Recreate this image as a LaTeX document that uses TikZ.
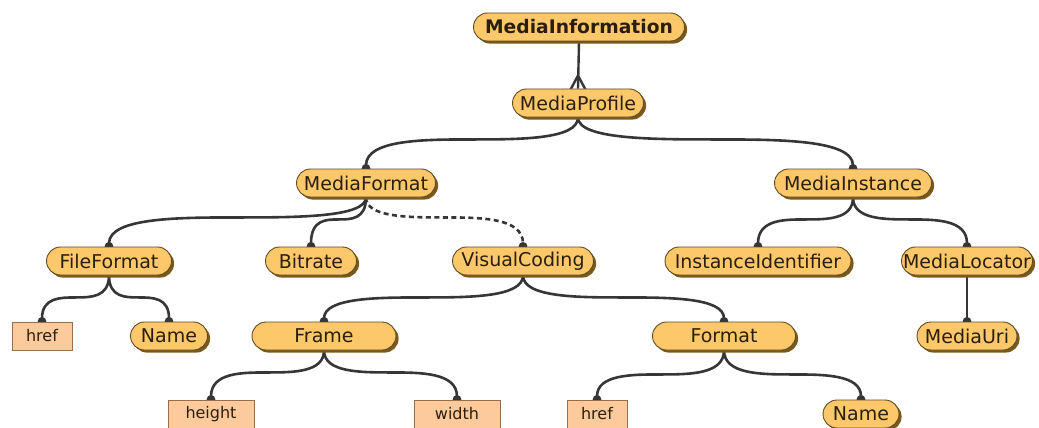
\documentclass[tikz,border=0pt]{standalone}
\usepackage{fontspec}
\setmainfont{DejaVu Sans}
\usetikzlibrary{calc,shadows,backgrounds,arrows.meta}

\definecolor{boxfill}{HTML}{FCC86A}
\definecolor{boxline}{HTML}{5E4A22}
\definecolor{boxshade}{HTML}{7A5A1C}
\definecolor{attrfill}{HTML}{FDCB9B}
\definecolor{attrline}{HTML}{9A6E4A}
\definecolor{wire}{HTML}{363636}
\definecolor{ink}{HTML}{2A1F0E}

\tikzset{
  elem/.style={draw=boxline, line width=0.9pt, fill=boxfill, rounded corners=14pt,
    minimum height=28pt, inner sep=0pt, text=ink, font=\fontsize{19}{21}\selectfont,
    drop shadow={shadow xshift=2.6pt, shadow yshift=-2.6pt, fill=boxshade, opacity=1}},
  attr/.style={draw=attrline, line width=0.8pt, fill=attrfill, minimum height=28pt,
    inner sep=0pt, text=ink, font=\fontsize{16}{18}\selectfont},
  conn/.style={draw=wire, line width=2.6pt, -{Circle[length=8.5pt,width=8.5pt]}, shorten >=-4pt},
  foot/.style={draw=wire, line width=2.4pt},
}

% parent-to-child link: two smooth bends meeting halfway at level #4 below the parent
% #1 extra options, #2 parent, #3 child, #4 depth of the halfway point below the parent
\newcommand\branch[4][]{%
  \draw[conn,#1] let \p1=(#2.south), \p2=(#3.north),
      \n1={sign(\x2-\x1)}, \n2={0.5*abs(\x2-\x1)}, \n3={\y1-#4}, \n4={0.5*(\x1+\x2)} in
    (\p1) .. controls (\x1,\n3) and ({\n4-\n1*\n2*0.45},\n3) .. (\n4,\n3)
    .. controls ({\n4+\n1*\n2*0.45},\n3) and (\x2,\n3) .. (\p2);}

\begin{document}
\begin{tikzpicture}[x=1pt,y=1pt]
\useasboundingbox (0,0) rectangle (1039,-428);

% elements
\node[elem, minimum width=211pt, font=\fontsize{18.7}{21}\selectfont\bfseries] (mi) at (579,-27) {MediaInformation};
\node[elem, minimum width=131pt] (mp) at (578,-103) {MediaProfile};
\node[elem, minimum width=139pt] (mf) at (366,-183) {MediaFormat};
\node[elem, minimum width=157pt] (minst) at (853,-183) {MediaInstance};
\node[elem, minimum width=125pt] (ff) at (109,-261) {FileFormat};
\node[elem, minimum width=91pt] (br) at (311,-261) {Bitrate};
\node[elem, minimum width=141pt] (vc) at (523,-261) {VisualCoding};
\node[elem, minimum width=186pt] (iid) at (758,-261) {InstanceIdentifier};
\node[elem, minimum width=131pt] (ml) at (967,-261) {MediaLocator};
\node[elem, minimum width=77pt] (nm1) at (169,-336) {Name};
\node[elem, minimum width=144pt] (fr) at (324,-336) {Frame};
\node[elem, minimum width=143pt] (fmt) at (724,-336) {Format};
\node[elem, minimum width=100pt] (mu) at (967,-336) {MediaUri};
\node[elem, minimum width=76pt] (nm2) at (861,-414) {Name};

% attributes
\node[attr, minimum width=60pt] (hr1) at (42,-336) {href};
\node[attr, minimum width=86pt] (hgt) at (211,-414) {height};
\node[attr, minimum width=86pt] (wid) at (457,-414) {width};
\node[attr, minimum width=60pt] (hr2) at (597,-414) {href};

\begin{scope}[on background layer]
  % one-to-many link with crow's foot
  \draw[foot] (mi.south) -- (mp.north);
  \draw[foot] ([yshift=13pt]mp.north) -- ([xshift=-8pt,yshift=-2pt]mp.north);
  \draw[foot] ([yshift=13pt]mp.north) -- ([xshift=8pt,yshift=-2pt]mp.north);

  \branch{mp}{mf}{22}
  \branch{mp}{minst}{22}
  \branch{mf}{ff}{20}
  \branch{mf}{br}{22}
  \branch[dashed, dash pattern=on 5pt off 3.5pt]{mf}{vc}{20}
  \branch{minst}{iid}{22}
  \branch{minst}{ml}{22}
  \branch{ff}{hr1}{22}
  \branch{ff}{nm1}{22}
  \branch{vc}{fr}{22}
  \branch{vc}{fmt}{22}
  \branch{ml}{mu}{22}
  \branch{fr}{hgt}{22}
  \branch{fr}{wid}{22}
  \branch{fmt}{hr2}{24}
  \branch{fmt}{nm2}{24}
\end{scope}
\end{tikzpicture}
\end{document}
